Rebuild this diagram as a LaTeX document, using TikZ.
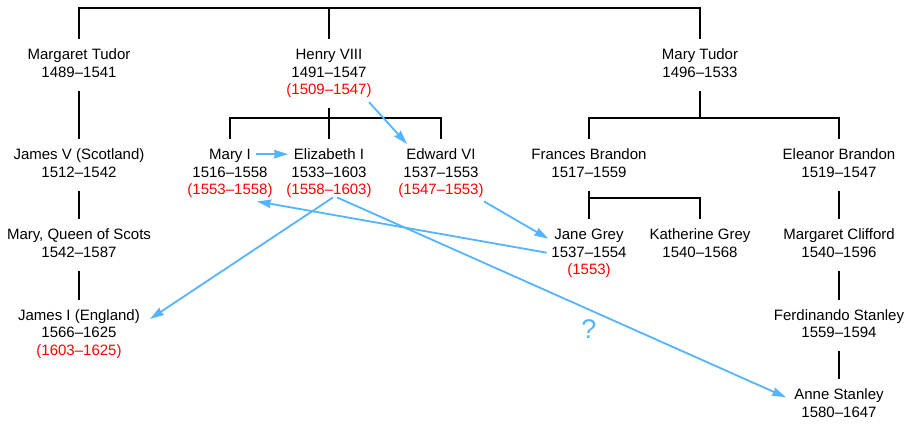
\documentclass[tikz,border=0pt]{standalone}
\usepackage{fontspec}
\setmainfont{Liberation Sans}
\usetikzlibrary{calc,arrows.meta}
\definecolor{arrowblue}{RGB}{85,180,255}
\definecolor{reignred}{RGB}{255,0,0}
\newcommand\reign[1]{\textcolor{reignred}{#1}}
\begin{document}
\begin{tikzpicture}[x=1pt,y=1pt,
  person/.style={align=center, anchor=north, inner xsep=2pt, inner ysep=8pt,
                 font=\fontsize{15}{17.5}\selectfont},
  kin/.style={line width=2pt, black},
  succ/.style={line width=1.8pt, arrowblue, -{Stealth[length=14pt,width=8.5pt,inset=1pt]}},
  qmark/.style={text=arrowblue, font=\fontsize{27}{30}\selectfont, inner sep=0pt}
]
\useasboundingbox (0,0) rectangle (908,-424);

% row 1
\node[person] (margaret)  at (79,-39.15)  {\strut Margaret Tudor\\\strut 1489–1541};
\node[person] (henry)     at (329,-39.15) {\strut Henry VIII\\\strut 1491–1547\\\strut\reign{(1509–1547)}};
\node[person] (marytudor) at (700,-39.15) {\strut Mary Tudor\\\strut 1496–1533};
% row 2
\node[person] (jamesV)    at (79,-139.15)  {\strut James V (Scotland)\\\strut 1512–1542};
\node[person] (maryI)     at (230,-139.15) {\strut Mary I\\\strut 1516–1558\\\strut\reign{(1553–1558)}};
\node[person] (elizabeth) at (329,-139.15) {\strut Elizabeth I\\\strut 1533–1603\\\strut\reign{(1558–1603)}};
\node[person] (edward)    at (441,-139.15) {\strut Edward VI\\\strut 1537–1553\\\strut\reign{(1547–1553)}};
\node[person] (frances)   at (589,-139.15) {\strut Frances Brandon\\\strut 1517–1559};
\node[person] (eleanor)   at (839,-139.15) {\strut Eleanor Brandon\\\strut 1519–1547};
% row 3
\node[person] (maryqs)    at (79,-219.15)  {\strut Mary, Queen of Scots\\\strut 1542–1587};
\node[person] (jane)      at (589,-219.15) {\strut Jane Grey\\\strut 1537–1554\\\strut\reign{(1553)}};
\node[person] (katherine) at (700,-219.15) {\strut Katherine Grey\\\strut 1540–1568};
\node[person] (mclifford) at (839,-219.15) {\strut Margaret Clifford\\\strut 1540–1596};
% row 4
\node[person] (jamesI)     at (79,-299.65)  {\strut James I (England)\\\strut 1566–1625\\\strut\reign{(1603–1625)}};
\node[person] (ferdinando) at (839,-299.65) {\strut Ferdinando Stanley\\\strut 1559–1594};
% row 5
\node[person] (anne)       at (839,-379.15) {\strut Anne Stanley\\\strut 1580–1647};

\node[qmark] (q) at (589,-329) {?};

% family lines
\coordinate (topbar) at (329,-8);
\draw[kin] (margaret.north) |- (topbar) -| (marytudor.north);
\draw[kin] (henry.north) -- (henry.north |- topbar);

\coordinate (hbar) at (329,-118);
\draw[kin] (henry.south) -- (hbar);
\draw[kin] (maryI.north) |- (hbar) -| (edward.north);
\draw[kin] (elizabeth.north) -- (elizabeth.north |- hbar);

\coordinate (mtbar) at (700,-118);
\draw[kin] (marytudor.south) -- (mtbar);
\draw[kin] (frances.north) |- (mtbar) -| (eleanor.north);

\coordinate (fbar) at (589,-198);
\draw[kin] (frances.south) -- (fbar);
\draw[kin] (jane.north) -- (fbar) -| (katherine.north);

\draw[kin] (margaret.south) -- (jamesV.north);
\draw[kin] (jamesV.south) -- (maryqs.north);
\draw[kin] (maryqs.south) -- (jamesI.north);

\draw[kin] (eleanor.south) -- (mclifford.north);
\draw[kin] (mclifford.south) -- (ferdinando.north);
\draw[kin] (ferdinando.south) -- (anne.north);

% succession arrows
\draw[succ] ($(henry.south)+(40,5.95)$) -- ($(edward.north)+(-34,-4.85)$);
\draw[succ] ($(maryI.north)+(26,-14.85)$) -- ($(elizabeth.north)+(-41,-15)$);
\draw[succ] ($(elizabeth.south)+(4,10.65)$) -- ($(jamesI.north)+(71,-19.35)$);
\draw[succ] ($(elizabeth.south)+(8,10.65)$) -- ($(anne.north)+(-53,-18.15)$);
\draw[succ] ($(jane.north)+(-42.3,-33.55)$) -- ($(maryI.south)+(27,6.65)$);
\draw[succ] ($(edward.south)+(43,6.65)$) -- ($(jane.north)+(-40.7,-19.55)$);
\end{tikzpicture}
\end{document}
